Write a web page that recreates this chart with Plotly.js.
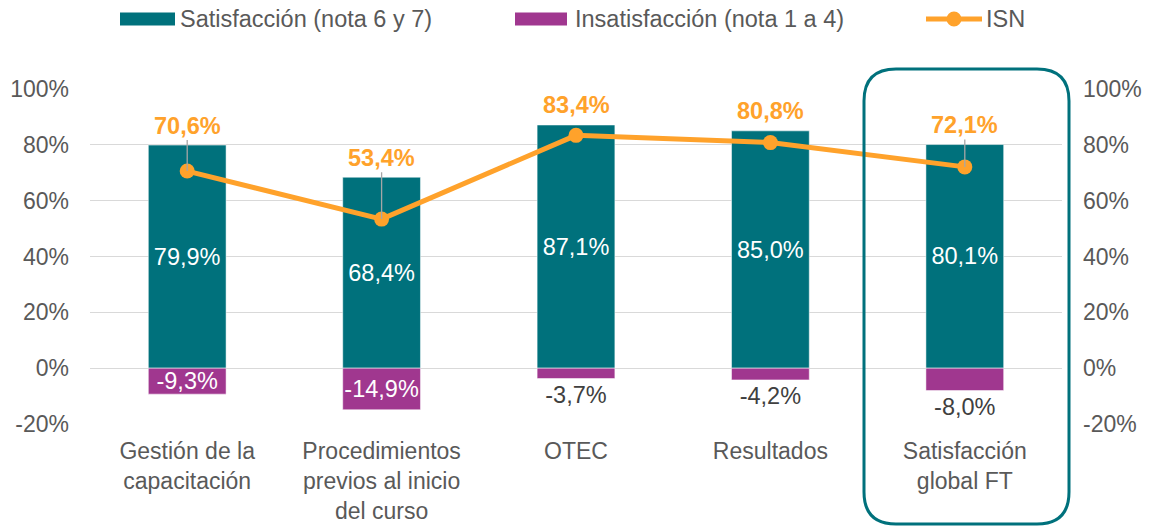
<!DOCTYPE html>
<html>
<head>
<meta charset="utf-8">
<script src="https://cdn.plot.ly/plotly-3.0.1.min.js"></script>
<style>html,body{margin:0;padding:0;background:#fff;}#chart{width:1149px;height:527px;}</style>
</head>
<body>
<div id="chart"></div>
<script>
var categories = ['Gestión de la<br>capacitación', 'Procedimientos<br>previos al inicio<br>del curso', 'OTEC', 'Resultados', 'Satisfacción<br>global FT'];
var satisfaccion = [79.9, 68.4, 87.1, 85.0, 80.1];
var insatisfaccion = [-9.3, -14.9, -3.7, -4.2, -8.0];
var isn = [70.6, 53.4, 83.4, 80.8, 72.1];
var tickVals = [-20, 0, 20, 40, 60, 80, 100];
var tickText = ['-20%', '0%', '20%', '40%', '60%', '80%', '100%'];
var seriesNames = ['Satisfacción (nota 6 y 7)', 'Insatisfacción (nota 1 a 4)', 'ISN'];

var TEAL = '#00717C', PURPLE = '#A0378F', ORANGE = '#FFA22B', GRAY = '#595959';
var FONT = 'Liberation Sans, Arial, sans-serif';

var W = 1149, H = 527, M = {l: 90, r: 87, t: 89, b: 103};
var PW = W - M.l - M.r, PH = H - M.t - M.b;
function px(X) { return (X - M.l) / PW; }
function py(Y) { return (H - M.b - Y) / PH; }

var traces = [
  {
    type: 'bar', name: seriesNames[0], x: categories, y: satisfaccion, showlegend: false,
    marker: {color: TEAL, line: {color: 'rgba(255,255,255,0.5)', width: 1}},
    texttemplate: '%{y:.1f}%', textposition: 'inside', insidetextanchor: 'middle',
    insidetextfont: {color: '#ffffff', size: 23.5, family: FONT}, constraintext: 'none',
    hoverinfo: 'skip'
  },
  {
    type: 'bar', name: seriesNames[1], x: categories, y: insatisfaccion, showlegend: false,
    marker: {color: PURPLE, line: {color: 'rgba(255,255,255,0.5)', width: 1}},
    texttemplate: '%{y:.1f}%', textposition: ['inside', 'inside', 'outside', 'outside', 'outside'],
    insidetextanchor: 'middle',
    insidetextfont: {color: '#ffffff', size: 23.5, family: FONT},
    outsidetextfont: {color: '#404040', size: 23.5, family: FONT}, constraintext: 'none',
    cliponaxis: false, hoverinfo: 'skip'
  },
  {
    type: 'scatter', mode: 'lines+markers', name: seriesNames[2], x: categories, y: isn, yaxis: 'y2',
    showlegend: false,
    line: {color: ORANGE, width: 5}, marker: {color: ORANGE, size: 15},
    cliponaxis: false, hoverinfo: 'skip'
  }
];

var annotations = isn.map(function (v, i) {
  var a = {
    xref: 'x', yref: 'y',
    text: v.toFixed(1).replace('.', ',') + '%',
    font: {family: FONT, size: 23.5, color: ORANGE, weight: 'bold'}
  };
  if ((satisfaccion[i] - v) > 6) {
    a.x = i; a.y = v; a.ax = i; a.ay = satisfaccion[i] + 7; a.axref = 'x'; a.ayref = 'y';
    a.showarrow = true; a.arrowhead = 0; a.arrowwidth = 1.3; a.arrowcolor = '#A6A6A6'; a.standoff = 0;
  } else {
    a.x = i; a.y = satisfaccion[i] + 7; a.showarrow = false;
  }
  return a;
});

/* custom legend (wide swatches like the original) */
var legendY = 19;
var legendItems = [
  {sw0: 120, sw1: 175, tx: 178, kind: 'box', color: TEAL, name: seriesNames[0]},
  {sw0: 515, sw1: 567, tx: 573, kind: 'box', color: PURPLE, name: seriesNames[1]},
  {sw0: 926, sw1: 982, tx: 984, kind: 'line', color: ORANGE, name: seriesNames[2]}
];
var shapes = [];
legendItems.forEach(function (it) {
  if (it.kind === 'box') {
    shapes.push({type: 'rect', xref: 'paper', yref: 'paper', x0: px(it.sw0), x1: px(it.sw1),
      y0: py(legendY + 6.5), y1: py(legendY - 6.5), fillcolor: it.color, line: {width: 0}, layer: 'above'});
  } else {
    shapes.push({type: 'line', xref: 'paper', yref: 'paper', x0: px(it.sw0), x1: px(it.sw1),
      y0: py(legendY), y1: py(legendY), line: {color: it.color, width: 5}, layer: 'above'});
    shapes.push({type: 'circle', xref: 'paper', yref: 'paper', xsizemode: 'pixel', ysizemode: 'pixel',
      xanchor: px((it.sw0 + it.sw1) / 2), yanchor: py(legendY), x0: -7.5, x1: 7.5, y0: -7.5, y1: 7.5,
      fillcolor: it.color, line: {width: 0}, layer: 'above'});
  }
  annotations.push({xref: 'paper', yref: 'paper', x: px(it.tx), y: py(legendY), xanchor: 'left', yanchor: 'middle',
    showarrow: false, text: it.name, font: {family: FONT, size: 23.5, color: GRAY}});
});

/* rounded highlight box around the last category */
var x0 = px(864), x1 = px(1069), y0 = py(524), y1 = py(69), rx = 32 / PW, ry = 32 / PH;
var boxPath = 'M' + (x0 + rx) + ',' + y1 + ' L' + (x1 - rx) + ',' + y1 +
  ' Q' + x1 + ',' + y1 + ' ' + x1 + ',' + (y1 - ry) +
  ' L' + x1 + ',' + (y0 + ry) +
  ' Q' + x1 + ',' + y0 + ' ' + (x1 - rx) + ',' + y0 +
  ' L' + (x0 + rx) + ',' + y0 +
  ' Q' + x0 + ',' + y0 + ' ' + x0 + ',' + (y0 + ry) +
  ' L' + x0 + ',' + (y1 - ry) +
  ' Q' + x0 + ',' + y1 + ' ' + (x0 + rx) + ',' + y1 + ' Z';
shapes.push({type: 'path', xref: 'paper', yref: 'paper', path: boxPath,
  line: {color: TEAL, width: 3}, fillcolor: 'rgba(0,0,0,0)', layer: 'above'});

var yAxisCommon = {
  range: [-20, 100], tickmode: 'array', tickvals: tickVals, ticktext: tickText,
  showgrid: true, gridcolor: '#D9D9D9', gridwidth: 1.3, zeroline: false,
  tickfont: {size: 23, color: GRAY, family: FONT}, ticks: '', ticklabelstandoff: 20, fixedrange: true
};

var layout = {
  width: W, height: H,
  margin: M,
  font: {family: FONT, color: GRAY, size: 23},
  paper_bgcolor: '#ffffff', plot_bgcolor: '#ffffff',
  barmode: 'relative', bargap: 0.6,
  separators: ',.',
  showlegend: false,
  xaxis: {
    type: 'category', showgrid: false, zeroline: false, showline: false, ticks: '',
    tickfont: {size: 23, color: GRAY, family: FONT}, ticklabelstandoff: 11, fixedrange: true,
    automargin: false
  },
  yaxis: Object.assign({}, yAxisCommon, {side: 'left'}),
  yaxis2: Object.assign({}, yAxisCommon, {side: 'right', overlaying: 'y', showgrid: false}),
  annotations: annotations,
  shapes: shapes
};

Plotly.newPlot('chart', traces, layout, {displayModeBar: false, staticPlot: true});
</script>
</body>
</html>
